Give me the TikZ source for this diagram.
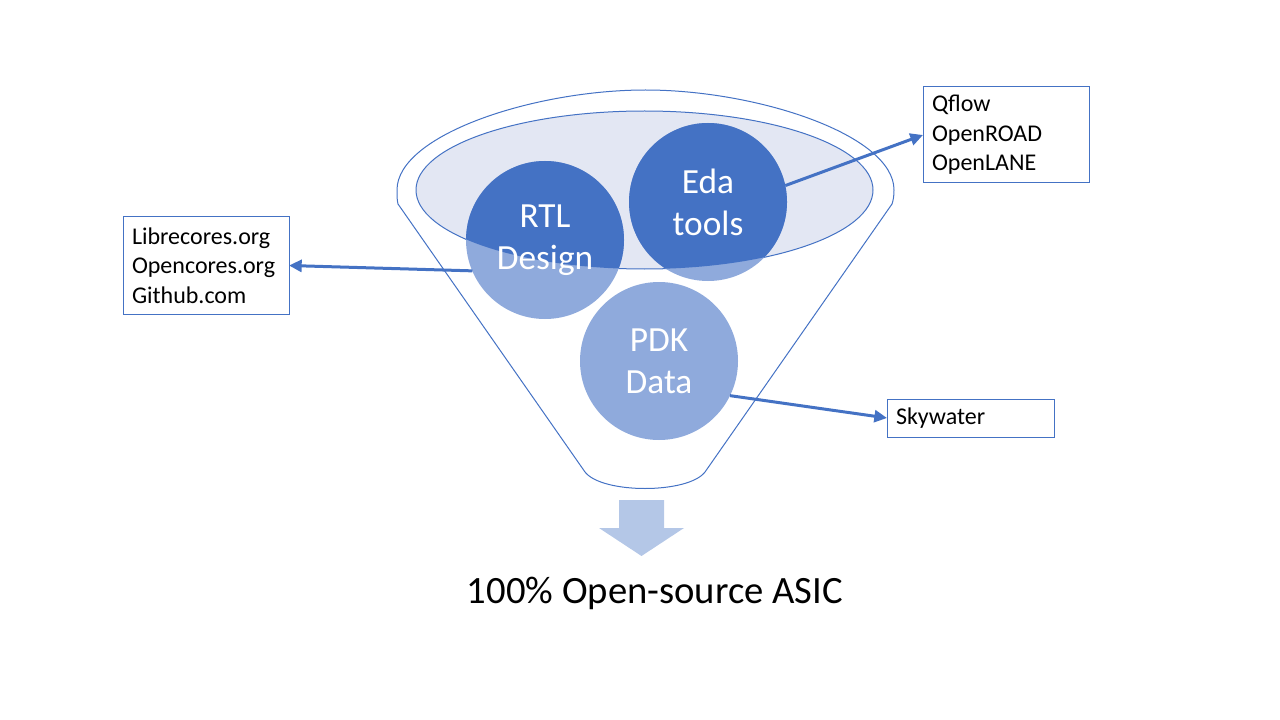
\documentclass[tikz,border=0pt]{standalone}
\usepackage{fontspec}
\setmainfont{Carlito}
\usetikzlibrary{arrows.meta}
\definecolor{accent}{HTML}{4472C4}
\definecolor{accentlite}{HTML}{8FAADC}
\definecolor{rimfill}{HTML}{E3E7F3}
\definecolor{outflow}{HTML}{B4C7E7}
\begin{document}
\begin{tikzpicture}[x=0.75pt,y=-0.75pt,
	every node/.style={inner sep=0,outer sep=0},
	bubble/.style={circle,minimum size=118.5pt,text=white,align=center,font=\fontsize{26.5}{31.5}\selectfont},
	info/.style={draw=accent,line width=0.75pt,anchor=north west,align=left,inner xsep=6.75pt,font=\fontsize{18}{22}\selectfont},
	link/.style={accent,line width=2.25pt,-{Triangle[length=9.5pt,width=9pt]}}]
	\useasboundingbox (0,0) rectangle (1280,720);
	\draw[accent,line width=0.75pt] (397,190) .. controls (397,134.8) and (534.3,90) .. (645.5,90)
		.. controls (756.7,90) and (894,134.8) .. (894,190)
		.. controls (894,197) and (893,201) .. (892,204) -- (705,472)
		.. controls (688,494) and (602,494) .. (585,472) -- (398,204)
		.. controls (397,200) and (397,196) .. cycle;
	\draw[accent,fill=rimfill,line width=0.75pt] (644.5,190) ellipse [x radius=228.5,y radius=79];
	\coordinate (rtlc) at (545,240);
	\coordinate (edac) at (708,202);
	\coordinate (pdkc) at (659,361);
	\fill[accentlite] (rtlc) circle [radius=79] (edac) circle [radius=79] (pdkc) circle [radius=79];
	\begin{scope}
	\clip (644.5,190) ellipse [x radius=228.5,y radius=79];
	\fill[accent] (rtlc) circle [radius=79] (edac) circle [radius=79];
	\end{scope}
	\node[bubble] (rtl) at (rtlc) {RTL\\Design};
	\node[bubble] (eda) at (edac) {Eda\\tools};
	\node[bubble] (pdk) at (pdkc) {PDK\\Data};
	\node[info,text width=111pt,minimum height=72.75pt] (libre) at (123,217) {Librecores.org\\Opencores.org\\Github.com};
	\node[info,text width=111pt,minimum height=72pt] (tools) at (923,87) {Qflow\\OpenROAD\\OpenLANE};
	\node[info,text width=111.75pt,minimum height=28.5pt] (sky) at (887,399) {Skywater};
	\draw[link] (rtl.203) -- (libre.east);
	\draw[link] (eda.12) -- (tools.west);
	\draw[link] (pdk.-26) -- (sky.west);
	\fill[outflow] (619,500) -- (664,500) -- (664,528) -- (684,528) -- (641.5,556) -- (599,528) -- (619,528) -- cycle;
	\node[font=\fontsize{29}{35}\selectfont] (asic) at (655,593) {100\% Open-source ASIC};
\end{tikzpicture}
\end{document}
